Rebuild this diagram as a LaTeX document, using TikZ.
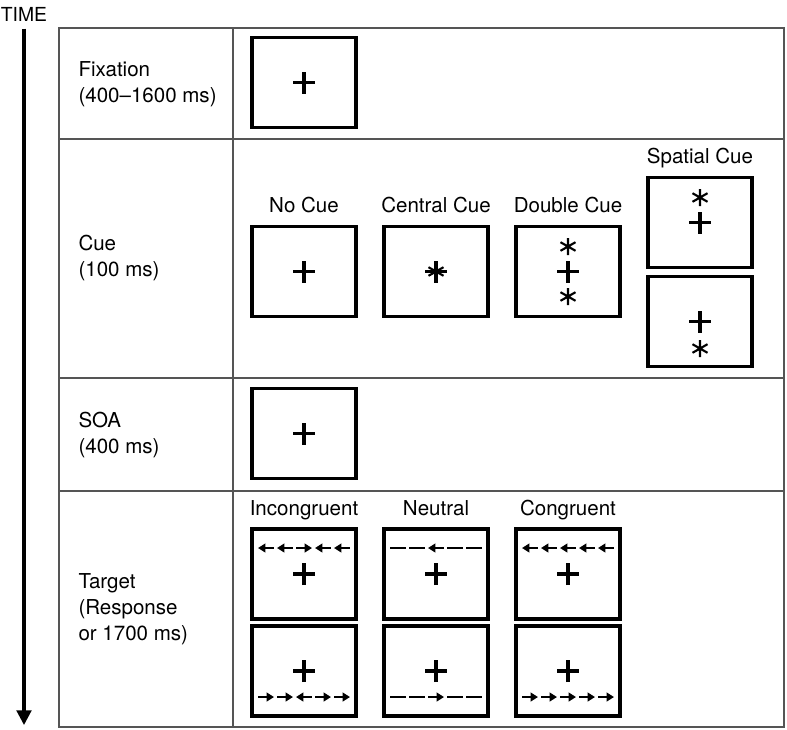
\documentclass[tikz,border=0pt]{standalone}
\usepackage{fontspec}
\setmainfont{TeX Gyre Heros}
\usetikzlibrary{calc,arrows.meta}

\tikzset{every picture/.style={line width=0.75pt}}
\tikzset{
  grid line/.style={draw={rgb, 255:red, 85; green, 85; blue, 85 }, line width=1.1},
  screen/.style={draw, line width=2.6, minimum width=78pt, minimum height=67.5pt, inner sep=0pt},
  rowlabel/.style={anchor=west, align=left, inner sep=0.75pt, font=\fontsize{15.4}{19.5}\selectfont},
  condlabel/.style={anchor=base, inner sep=0.75pt, font=\fontsize{15.4}{19.5}\selectfont},
  time arrow/.style={line width=2.3, -{Triangle[length=11pt,width=11pt]}},
  flank/.style={line width=1.6, >={Triangle[length=5.5pt,width=6.5pt]}},
  fixcross/.pic={\draw[line width=2.4] (-11,0) -- (11,0) (0,-11) -- (0,11);},
  cuestar/.pic={\draw[line width=1.6] (0,-8.5) -- (0,8.5) (-7.5,-4.3) -- (7.5,4.3) (-7.5,4.3) -- (7.5,-4.3);}
}

\begin{document}
\begin{tikzpicture}[x=0.75pt,y=0.75pt,yscale=-1,xscale=1]
\useasboundingbox (0,0) rectangle (787,729);

%Table
\draw[grid line] (59,28) rectangle (784,727);
\draw[grid line] (233,28) -- (233,727);
\draw[grid line] (59,139) -- (784,139);
\draw[grid line] (59,378) -- (784,378);
\draw[grid line] (59,491) -- (784,491);

%Time axis
\node[inner sep=0.75pt, font=\fontsize{14.5}{16}\selectfont] (time) at (24,14) {TIME};
\coordinate (tend) at (24,725);
\draw[time arrow, shorten <=4.5pt] (time.south) -- (tend);

% Row labels
\node[rowlabel] (lfix) at (77,84) {Fixation\\(400–1600 ms)};
\node[rowlabel] (lcue) at (77,258) {Cue\\(100 ms)};
\node[rowlabel] (lsoa) at (77,435) {SOA\\(400 ms)};
\node[rowlabel] (ltgt) at (77,609) {Target\\(Response\\or 1700 ms)};

%Fixation
\node[screen] (fix) at (304,82.5) {};
\pic at (fix) {fixcross};

%Cue
\node[screen] (nocue) at (304,271.5) {};
\node[screen] (centcue) at (436,271.5) {};
\node[screen] (dblcue) at (568,271.5) {};
\node[screen] (spup) at (700,222.5) {};
\node[screen] (spdown) at (700,321.5) {};
\node[condlabel] (lnocue) at ($(nocue.north)+(0,-12)$) {No Cue};
\node[condlabel] (lcentcue) at ($(centcue.north)+(0,-12)$) {Central Cue};
\node[condlabel] (ldblcue) at ($(dblcue.north)+(0,-12)$) {Double Cue};
\node[condlabel] (lspcue) at ($(spup.north)+(0,-12)$) {Spatial Cue};
\pic at (nocue) {fixcross};
\pic at (centcue) {fixcross};
\pic at (centcue) {cuestar};
\pic at (dblcue) {fixcross};
\pic at ($(dblcue)+(0,-25)$) {cuestar};
\pic at ($(dblcue)+(0,25)$) {cuestar};
\pic at (spup) {fixcross};
\pic at ($(spup)+(0,-25)$) {cuestar};
\pic at (spdown) {fixcross};
\pic at ($(spdown)+(0,27)$) {cuestar};

%SOA
\node[screen] (soa) at (304,433.5) {};
\pic at (soa) {fixcross};

%Target
\node[screen] (incup) at (304,574) {};
\node[screen] (neutup) at (436,574) {};
\node[screen] (congup) at (568,574) {};
\node[screen] (incdn) at (304,671) {};
\node[screen] (neutdn) at (436,671) {};
\node[screen] (congdn) at (568,671) {};
\node[condlabel] (linc) at ($(incup.north)+(0,-12)$) {Incongruent};
\node[condlabel] (lneut) at ($(neutup.north)+(0,-12)$) {Neutral};
\node[condlabel] (lcong) at ($(congup.north)+(0,-12)$) {Congruent};
\foreach \n in {incup,neutup,congup,incdn,neutdn,congdn}
  \pic at (\n) {fixcross};
% flankers
\foreach \dx/\tip in {-38/<-,-19/<-,0/->,19/<-,38/<-}
  \draw[flank,\tip] ($(incup)+(\dx-8,-26)$) -- ($(incup)+(\dx+8,-26)$);
\foreach \dx/\tip in {-38/->,-19/->,0/<-,19/->,38/->}
  \draw[flank,\tip] ($(incdn)+(\dx-8,26)$) -- ($(incdn)+(\dx+8,26)$);
\foreach \dx/\tip in {-38/-,-19/-,0/<-,19/-,38/-}
  \draw[flank,\tip] ($(neutup)+(\dx-8,-26)$) -- ($(neutup)+(\dx+8,-26)$);
\foreach \dx/\tip in {-38/-,-19/-,0/->,19/-,38/-}
  \draw[flank,\tip] ($(neutdn)+(\dx-8,26)$) -- ($(neutdn)+(\dx+8,26)$);
\foreach \dx in {-38,-19,0,19,38}
  \draw[flank,<-] ($(congup)+(\dx-8,-26)$) -- ($(congup)+(\dx+8,-26)$);
\foreach \dx in {-38,-19,0,19,38}
  \draw[flank,->] ($(congdn)+(\dx-8,26)$) -- ($(congdn)+(\dx+8,26)$);

\end{tikzpicture}
\end{document}
